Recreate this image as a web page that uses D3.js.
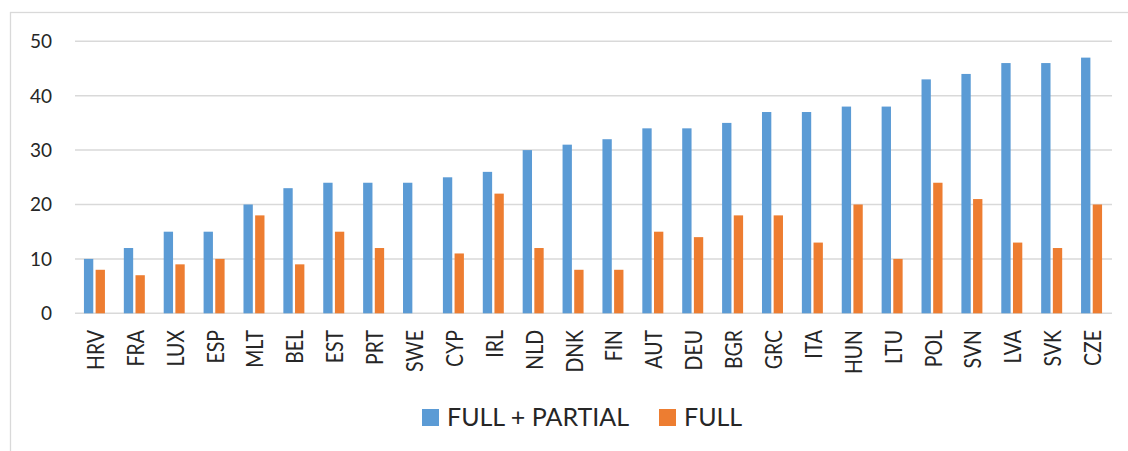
<!DOCTYPE html>
<head>
    <meta charset="UTF-8" />
    <style>
        body { margin: 0; padding: 0; background: #fff; }
        text { font-family: Lato, "Open Sans", sans-serif; fill: #262626; }
        .grid line { stroke: #d9d9d9; stroke-width: 1.5px; }
    </style>
    <title>Chart</title>
</head>

<svg width="1128" height="451"></svg>
<script src="https://d3js.org/d3.v7.min.js"></script>

<script>
    const countries = ["HRV", "FRA", "LUX", "ESP", "MLT", "BEL", "EST", "PRT", "SWE", "CYP", "IRL", "NLD", "DNK",
        "FIN", "AUT", "DEU", "BGR", "GRC", "ITA", "HUN", "LTU", "POL", "SVN", "LVA", "SVK", "CZE"]
    const fullPartial = [10, 12, 15, 15, 20, 23, 24, 24, 24, 25, 26, 30, 31, 32, 34, 34, 35, 37, 37, 38, 38, 43, 44, 46, 46, 47]
    const full = [8, 7, 9, 10, 18, 9, 15, 12, 0, 11, 22, 12, 8, 8, 15, 14, 18, 18, 13, 20, 10, 24, 21, 13, 12, 20]
    const seriesNames = ["FULL + PARTIAL", "FULL"]
    const yTicks = [0, 10, 20, 30, 40, 50]

    const colors = ["#5b9bd5", "#ed7d31"]
    const svg = d3.select("svg")

    // outer frame
    svg.append("rect")
        .attr("x", 10.5).attr("y", 12.5)
        .attr("width", 1140).attr("height", 460)
        .attr("fill", "none").attr("stroke", "#d9d9d9").attr("stroke-width", 1.3)

    const plotL = 75, plotR = 1112, plotT = 41.3, plotB = 313.3

    const x = d3.scaleBand().domain(countries).range([plotL, plotR]).padding(0)
    const x1 = d3.scaleBand().domain(seriesNames).range([-11, 10]).paddingInner(0.2)
    const y = d3.scaleLinear().domain([0, 50]).range([plotB, plotT])

    // gridlines
    svg.append("g").attr("class", "grid")
        .selectAll("line").data(yTicks).enter().append("line")
        .attr("x1", plotL).attr("x2", plotR)
        .attr("y1", d => y(d)).attr("y2", d => y(d))

    // y labels
    svg.append("g").selectAll("text").data(yTicks).enter().append("text")
        .attr("x", 52).attr("y", d => y(d))
        .attr("dy", "0.36em")
        .attr("text-anchor", "end")
        .style("font-size", "19px")
        .text(d => d)

    const rows = countries.map((c, i) => ({ c, vals: [fullPartial[i], full[i]] }))

    const grp = svg.append("g").selectAll("g").data(rows).enter().append("g")
        .attr("transform", d => `translate(${x(d.c) + x.bandwidth() / 2},0)`)

    grp.selectAll("rect").data(d => d.vals.map((v, k) => ({ k, v })))
        .enter().append("rect")
        .filter(d => d.v > 0)
        .attr("x", d => x1(seriesNames[d.k]))
        .attr("width", x1.bandwidth())
        .attr("y", d => y(d.v))
        .attr("height", d => plotB - y(d.v))
        .attr("fill", d => colors[d.k])

    // x labels (slightly widened like the original)
    grp.append("text")
        .attr("transform", "translate(9,330) rotate(-90) scale(1,1.14)")
        .attr("text-anchor", "end")
        .style("font-size", "19.5px")
        .text(d => d.c)

    // legend
    const legend = [
        { name: seriesNames[0], sx: 422, tx: 447 },
        { name: seriesNames[1], sx: 659, tx: 684 }
    ]
    legend.forEach((l, i) => {
        svg.append("rect").attr("x", l.sx).attr("y", 409).attr("width", 17).attr("height", 17)
            .attr("fill", colors[i])
        svg.append("text").attr("x", l.tx).attr("y", 426)
            .style("font-size", "25px")
            .text(l.name)
    })
</script>
